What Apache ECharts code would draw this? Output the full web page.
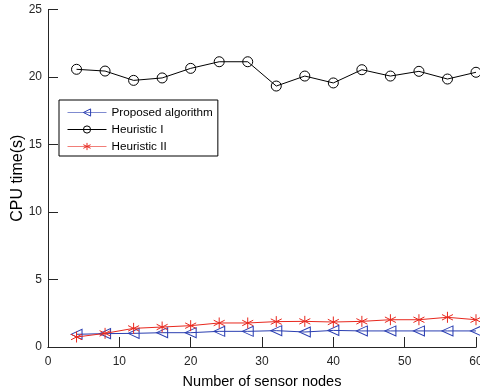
<!DOCTYPE html>
<html>
<head>
<meta charset="utf-8">
<script src="https://cdn.jsdelivr.net/npm/echarts@6/dist/echarts.min.js"></script>
<style>
html, body { margin: 0; padding: 0; background: #fff; }
#chart { width: 480px; height: 392px; }
</style>
</head>
<body>
<div id="chart"></div>
<script>
// data
const nodes = [4, 8, 12, 16, 20, 24, 28, 32, 36, 40, 44, 48, 52, 56, 60];
const proposed = [0.94, 0.99, 1.01, 1.06, 1.06, 1.16, 1.16, 1.21, 1.11, 1.23, 1.19, 1.19, 1.19, 1.19, 1.19];
const heuristic1 = [20.57, 20.44, 19.75, 19.93, 20.64, 21.13, 21.13, 19.33, 20.07, 19.56, 20.54, 20.07, 20.42, 19.85, 20.35];
const heuristic2 = [0.74, 1.01, 1.38, 1.48, 1.58, 1.78, 1.78, 1.88, 1.9, 1.85, 1.9, 2.02, 2.02, 2.2, 2.02];
const seriesNames = ['Proposed algorithm', 'Heuristic I', 'Heuristic II'];

const axisColor = '#262626';
const font = 'Liberation Sans, Arial, sans-serif';
const asterisk = 'path://M0,-1L0,1M-0.87,-0.5L0.87,0.5M-0.87,0.5L0.87,-0.5';
const blue = '#2a3eb1';
const red = '#e8281e';

function pairs(vals) {
  return nodes.map((x, i) => [x, vals[i]]);
}

// plain line closing the box (top / right)
function lineAxis(extra) {
  return Object.assign({
    axisLine: { show: true, lineStyle: { color: axisColor, width: 1 } },
    axisTick: { show: false },
    axisLabel: { show: false },
    splitLine: { show: false }
  }, extra);
}

// tick-only axis pushed 5px into the plot so its outward ticks end on the frame
function tickAxis(extra) {
  return Object.assign({
    offset: -5,
    axisLine: { show: false },
    axisTick: { show: true, length: 5, lineStyle: { color: axisColor } },
    axisLabel: { show: false },
    splitLine: { show: false }
  }, extra);
}

const xRange = { type: 'value', min: 0, max: 60, interval: 10 };
const yRange = { type: 'value', min: 0, max: 25, interval: 5 };

const option = {
  animation: false,
  backgroundColor: '#fff',
  textStyle: { fontFamily: font },
  grid: { left: 48, right: 4, top: 9.5, bottom: 45, outerBoundsMode: 'none', containLabel: false },
  legend: {
    left: 59,
    top: 100,
    orient: 'vertical',
    itemGap: 5,
    itemWidth: 39,
    itemHeight: 9,
    padding: [6.5, 5, 3.5, 8],
    borderColor: '#000',
    borderWidth: 1,
    borderRadius: 0,
    backgroundColor: '#fff',
    textStyle: { fontSize: 11.7, color: '#000', fontFamily: font },
    data: [
      { name: seriesNames[0], lineStyle: { opacity: 0.6, width: 1 },
        itemStyle: { color: 'rgba(0,0,0,0)', borderColor: blue, borderWidth: 1 } },
      { name: seriesNames[1], lineStyle: { width: 1 },
        itemStyle: { color: 'rgba(0,0,0,0)', borderColor: '#000', borderWidth: 1 } },
      { name: seriesNames[2], lineStyle: { opacity: 0.6, width: 1 },
        itemStyle: { color: 'rgba(0,0,0,0)', borderColor: red, borderWidth: 1 } }
    ]
  },
  xAxis: [
    Object.assign({}, xRange, {
      name: 'Number of sensor nodes', nameLocation: 'middle', nameGap: 27.5,
      nameMoveOverlap: false,
      nameTextStyle: { fontSize: 14.5, color: '#000' },
      axisLine: { show: true, lineStyle: { color: axisColor } },
      axisTick: { show: false },
      axisLabel: { fontSize: 12, color: '#262626', margin: 9 },
      splitLine: { show: false }
    }),
    Object.assign({}, xRange, lineAxis({ position: 'top' })),
    Object.assign({}, xRange, tickAxis({ position: 'bottom' })),
    Object.assign({}, xRange, tickAxis({ position: 'top' }))
  ],
  yAxis: [
    Object.assign({}, yRange, {
      name: 'CPU time(s)', nameLocation: 'middle', nameGap: 22,
      nameMoveOverlap: false,
      nameTextStyle: { fontSize: 16, color: '#000' },
      axisLine: { show: true, lineStyle: { color: axisColor } },
      axisTick: { show: false },
      axisLabel: { fontSize: 12, color: '#262626', margin: 6 },
      splitLine: { show: false }
    }),
    Object.assign({}, yRange, lineAxis({ position: 'right' })),
    Object.assign({}, yRange, tickAxis({ position: 'left' })),
    Object.assign({}, yRange, tickAxis({ position: 'right' }))
  ],
  series: [
    {
      name: seriesNames[0], type: 'line', data: pairs(proposed),
      symbol: 'triangle', symbolRotate: 90, symbolSize: [10, 11],
      itemStyle: { color: 'transparent', borderColor: blue, borderWidth: 1 },
      lineStyle: { color: blue, width: 1 },
      z: 3
    },
    {
      name: seriesNames[1], type: 'line', data: pairs(heuristic1),
      symbol: 'circle', symbolSize: 10,
      itemStyle: { color: 'transparent', borderColor: '#000', borderWidth: 1 },
      lineStyle: { color: '#000', width: 1 },
      z: 2
    },
    {
      name: seriesNames[2], type: 'line', data: pairs(heuristic2),
      symbol: asterisk, symbolSize: 11,
      itemStyle: { color: 'transparent', borderColor: red, borderWidth: 1 },
      lineStyle: { color: red, width: 1 },
      z: 4
    }
  ]
};

const chart = echarts.init(document.getElementById('chart'));
chart.setOption(option);
</script>
</body>
</html>
